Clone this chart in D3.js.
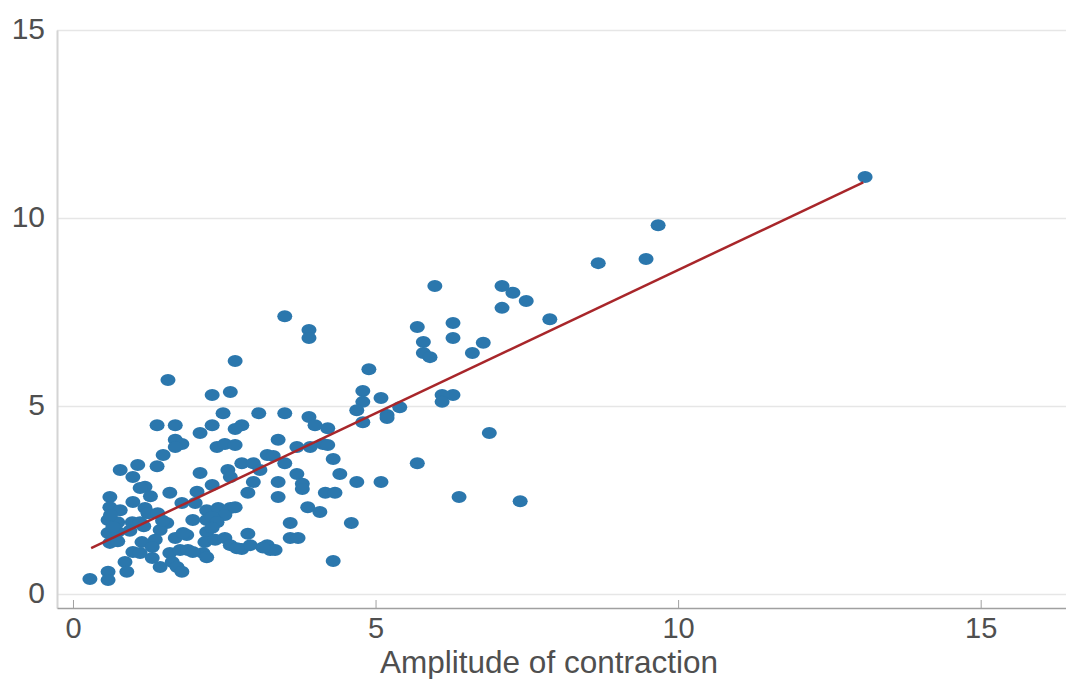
<!DOCTYPE html>
<html>
<head>
<meta charset="utf-8">
<script src="https://cdn.jsdelivr.net/npm/d3@7"></script>
<style>
  body { margin: 0; background: #fff; }
  .tick text { font-family: "Liberation Sans", Arial, sans-serif; }
</style>
</head>
<body>
<div id="vis"></div>
<script>
// data
let amplitude = [
  13.09, 9.67, 9.47, 8.68, 7.88, 7.49, 7.27, 7.09, 7.09, 6.78, 6.60, 6.28, 6.28, 5.98, 5.69,
  5.79, 5.79, 5.90, 6.28, 6.10, 6.10, 6.88, 5.69, 6.38, 7.39, 4.89, 4.79, 4.79, 5.09, 4.69,
  5.40, 5.19, 5.19, 4.79, 5.09, 4.69, 4.60, 4.30, 3.50, 3.90, 3.90, 2.68, 1.57, 2.60, 2.30,
  2.48, 3.07, 3.50, 3.90, 4.00, 4.21, 1.39, 1.69, 2.30, 2.10, 2.79, 2.68, 1.69, 1.80, 1.69,
  2.38, 2.51, 2.68, 3.39, 3.70, 3.92, 4.13, 4.21, 1.49, 3.21, 3.31, 4.30, 1.07, 0.78, 1.39,
  2.79, 2.98, 3.50, 2.10, 0.99, 2.56, 2.60, 2.98, 3.09, 3.39, 3.70, 3.79, 3.79, 4.41, 1.19,
  1.11, 2.30, 1.60, 2.89, 3.39, 4.17, 4.33, 0.61, 0.99, 1.80, 2.02, 2.21, 2.40, 2.60, 2.51,
  3.88, 4.08, 0.61, 0.78, 1.19, 1.24, 1.40, 2.68, 0.58, 0.74, 0.98, 1.11, 1.55, 1.98, 2.21,
  2.30, 2.38, 3.59, 0.58, 0.74, 0.94, 1.44, 1.88, 2.21, 2.30, 0.61, 1.14, 1.36, 1.69, 1.82,
  2.18, 2.35, 2.51, 2.89, 3.59, 3.72, 0.99, 1.11, 1.31, 1.60, 1.77, 1.90, 2.15, 2.60, 2.79,
  2.93, 3.21, 3.26, 3.34, 0.86, 1.31, 1.44, 1.64, 2.21, 1.72, 1.80, 0.58, 0.89, 0.28, 0.58,
  0.74, 1.17, 0.66, 1.48, 2.71, 3.14, 1.98, 0.62, 1.28, 2.05
];
let response = [
  11.09, 9.81, 8.91, 8.80, 7.31, 7.79, 8.01, 8.19, 7.61, 6.68, 6.41, 7.21, 6.81, 8.19, 7.10,
  6.70, 6.41, 6.30, 5.29, 5.29, 5.11, 4.28, 3.48, 2.58, 2.47, 5.98, 5.40, 5.11, 5.21, 4.89,
  4.97, 4.76, 4.68, 4.57, 2.98, 2.98, 1.89, 0.88, 7.39, 7.02, 6.81, 6.20, 5.69, 5.37, 5.29,
  4.81, 4.81, 4.81, 4.71, 4.49, 4.41, 4.49, 4.49, 4.49, 4.28, 4.49, 4.39, 4.10, 3.99, 3.91,
  3.91, 3.99, 3.96, 4.10, 3.91, 3.91, 3.99, 3.96, 3.70, 3.70, 3.67, 3.59, 3.43, 3.30, 3.40,
  3.48, 3.48, 3.48, 3.22, 3.11, 3.30, 3.11, 2.98, 3.30, 2.98, 3.19, 2.93, 2.79, 3.19, 2.85,
  2.82, 2.90, 2.69, 2.69, 2.58, 2.69, 2.69, 2.58, 2.45, 2.42, 2.42, 2.23, 2.29, 2.29, 2.10,
  2.31, 2.18, 2.31, 2.23, 2.29, 2.15, 2.15, 2.31, 1.97, 1.91, 1.91, 1.91, 1.89, 1.97, 1.97,
  2.05, 1.91, 1.89, 1.62, 1.65, 1.68, 1.70, 1.57, 1.65, 1.76, 1.36, 1.38, 1.44, 1.49, 1.62,
  1.38, 1.44, 1.49, 1.60, 1.49, 1.49, 1.12, 1.09, 1.25, 1.09, 1.17, 1.17, 1.09, 1.30, 1.20,
  1.30, 1.30, 1.17, 1.17, 0.85, 0.96, 0.72, 0.85, 0.98, 0.72, 0.59, 0.59, 0.59, 0.40, 0.37,
  1.40, 1.80, 1.78, 1.95, 1.22, 1.24, 1.12, 2.10, 2.60, 2.72
];

// trend line end points
let fitX = [0.30, 13.06];
let fitY = [1.22, 10.95];

let xTicks = [0, 5, 10, 15];
let yTicks = [0, 5, 10, 15];
let xTitle = "Amplitude of contraction";

let points = amplitude.map(function(d, i) {
  return { x: d, y: response[i] };
});

let width = 1066, height = 679;

let svg = d3.select('#vis')
  .append('svg')
  .attr('width', width)
  .attr('height', height);

let xScale = d3.scaleLinear()
  .domain([-0.264, 16.41])
  .range([57, 1066]);

let yScale = d3.scaleLinear()
  .domain([-0.372, 15])
  .range([608, 30]);

// horizontal grid
svg.append("g")
  .attr("transform", "translate(57,0)")
  .call(d3.axisLeft(yScale).tickValues(yTicks).tickSize(-(1066 - 57)).tickFormat(""))
  .call(g => g.select(".domain").remove())
  .call(g => g.selectAll(".tick line").attr("stroke", "#e6e6e6").attr("stroke-width", 1.5));

// y axis
svg.append("g")
  .attr("transform", "translate(57,0)")
  .call(d3.axisLeft(yScale).tickValues(yTicks).tickSize(0).tickPadding(12))
  .call(g => g.select(".domain").attr("stroke", "#d4d4d4").attr("stroke-width", 2))
  .call(g => g.selectAll(".tick text").attr("font-size", 30).attr("dy", "0.28em").attr("fill", "#4f4f4f"));

// x axis
svg.append("g")
  .attr("transform", "translate(0,608)")
  .call(d3.axisBottom(xScale).tickValues(xTicks).tickSizeInner(-8).tickSizeOuter(0).tickPadding(9))
  .call(g => g.select(".domain").attr("stroke", "#a0a0a0").attr("stroke-width", 1.5))
  .call(g => g.selectAll(".tick line").attr("stroke", "#a0a0a0"))
  .call(g => g.selectAll(".tick text").attr("font-size", 29).attr("fill", "#4f4f4f"));

svg.append("text")
  .attr("x", 549)
  .attr("y", 673)
  .attr("text-anchor", "middle")
  .attr("font-family", "Liberation Sans, Arial, sans-serif")
  .attr("font-size", 31.5)
  .attr("fill", "#4f4f4f")
  .text(xTitle);

// dots
svg.append("g")
  .selectAll("ellipse")
  .data(points)
  .enter()
  .append("ellipse")
    .attr("cx", function(d) { return xScale(d.x); })
    .attr("cy", function(d) { return yScale(d.y); })
    .attr("rx", 7.5)
    .attr("ry", 6)
    .attr("fill", "#2b77ad");

// trend line
let line = d3.line()
  .x(function(d) { return xScale(d[0]); })
  .y(function(d) { return yScale(d[1]); });

svg.append("path")
  .datum(fitX.map(function(d, i) { return [d, fitY[i]]; }))
  .attr("d", line)
  .attr("fill", "none")
  .attr("stroke", "#a8262a")
  .attr("stroke-width", 2.5);
</script>
</body>
</html>
